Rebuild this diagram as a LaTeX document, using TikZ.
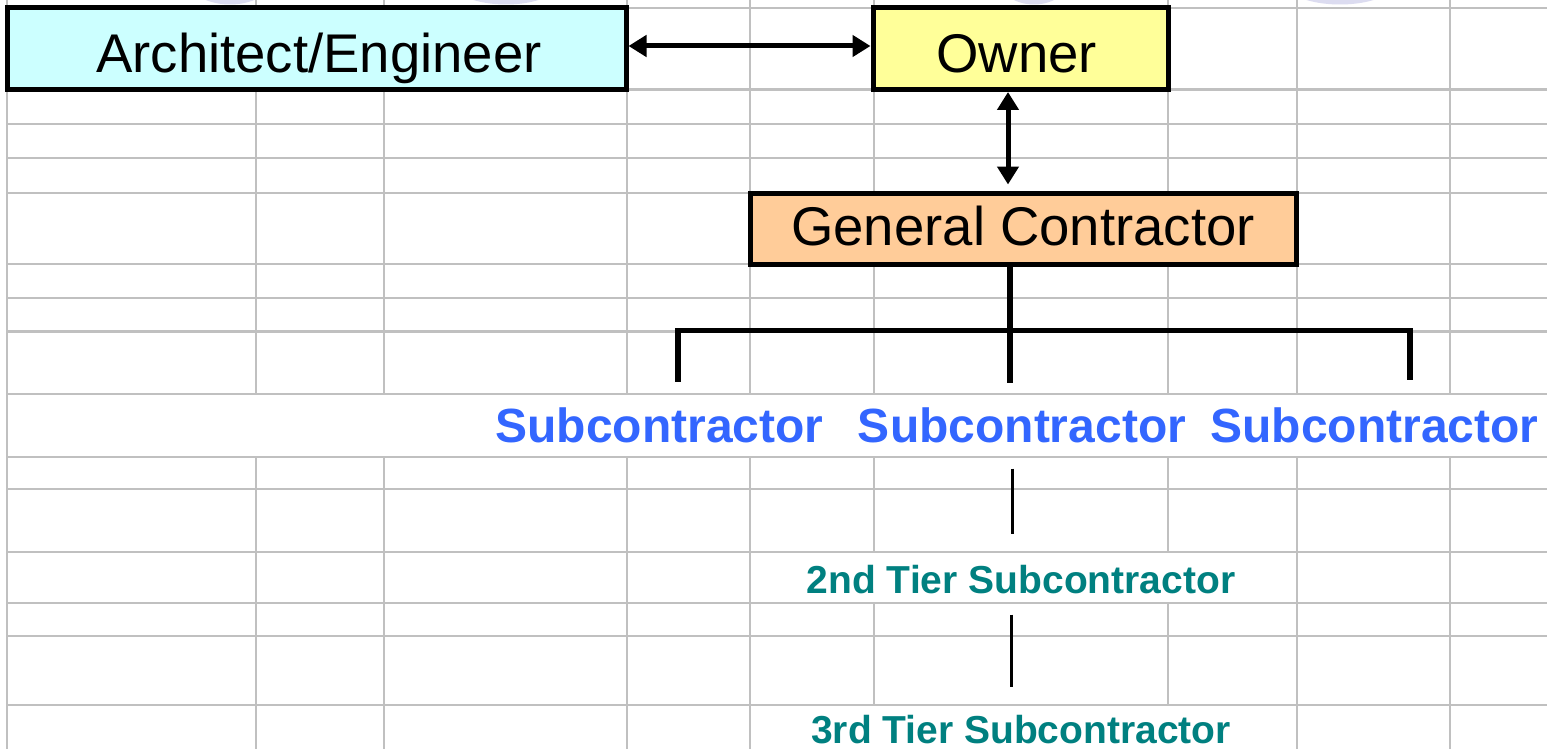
\documentclass[tikz,border=0pt]{standalone}
\usepackage{fontspec}
\setmainfont{Liberation Sans}
\usetikzlibrary{arrows.meta}

\definecolor{gridgray}{HTML}{C0C0C0}
\definecolor{aefill}{HTML}{CCFFFF}
\definecolor{ownerfill}{HTML}{FFFF99}
\definecolor{gcfill}{HTML}{FFCC99}
\definecolor{subblue}{HTML}{3366FF}
\definecolor{tierteal}{HTML}{008080}
\definecolor{haze}{HTML}{DCDCF0}

\tikzset{
  gridline/.style={draw=gridgray, line width=2.2pt},
  orgbox/.style={draw=black, line width=5pt, inner sep=0pt, text depth=0pt,
    font=\fontsize{54.5pt}{60pt}\selectfont},
  sublabel/.style={inner sep=0pt, anchor=base, text=subblue,
    font=\fontsize{48pt}{54pt}\selectfont\bfseries},
  tierlabel/.style={inner sep=0pt, anchor=base, text=tierteal,
    font=\fontsize{39pt}{44pt}\selectfont\bfseries},
  biarrow/.style={line width=5pt,
    {Triangle[length=18pt,width=21pt]}-{Triangle[length=18pt,width=21pt]}},
  treeline/.style={line width=5.5pt},
  thinlink/.style={line width=3pt}
}

\begin{document}
\begin{tikzpicture}[x=1pt,y=-1pt]
\useasboundingbox (0,0) rectangle (1547,749);
\fill[white] (0,0) rectangle (1547,749);

% faint shapes peeking in at the top edge
\begin{scope}
  \clip (0,0) rectangle (1547,749);
  \fill[haze] (230,-25.5) ellipse [x radius=46, y radius=30];
  \fill[haze] (506,-25.5) ellipse [x radius=62, y radius=30];
  \fill[haze] (1034,-25.5) ellipse [x radius=38, y radius=30];
  \fill[haze] (1340,-25.5) ellipse [x radius=64, y radius=30];
\end{scope}

% spreadsheet grid
\foreach \y in {8,89.5,124,158,193,264,298,331.5,394,457,489,552,603,636,705}
  \draw[gridline] (7,\y) -- (1547,\y);
\draw[gridline] (7,0) -- (7,749);
\foreach \x in {256,384,627,750,1297,1450} {
  \draw[gridline] (\x,0) -- (\x,394);
  \draw[gridline] (\x,457) -- (\x,749);
}
\foreach \x in {874,1168} {
  \draw[gridline] (\x,0) -- (\x,394);
  \draw[gridline] (\x,457) -- (\x,552);
  \draw[gridline] (\x,603) -- (\x,705);
}

% parties
\node[orgbox, fill=aefill, minimum width=619pt, minimum height=81.5pt,
  text height=47pt] (ae) at (316.5,48.75) {\hspace*{5pt}Architect/Engineer};
\node[orgbox, fill=ownerfill, minimum width=295pt, minimum height=81.5pt,
  text height=47pt] (owner) at (1020.5,48.75) {Owner\hspace*{8pt}};
\node[orgbox, fill=gcfill, minimum width=546pt, minimum height=71pt,
  text height=34.4pt] (gc) at (1023,228.5) {General Contractor};

\node[sublabel] (s1) at (659.5,442) {Subcontractor};
\node[sublabel] (s2) at (1022,442) {Subcontractor};
\node[sublabel] (s3) at (1374.5,442) {Subcontractor};

\node[tierlabel] (t2) at (1021,593) {2nd Tier Subcontractor};
\node[tierlabel] (t3) at (1021,743) {3rd Tier Subcontractor};

% contract relationships
\draw[biarrow] ([yshift=2.75pt]ae.east) -- ([yshift=2.75pt]owner.west);
\draw[biarrow, shorten >=6pt] ([xshift=-12.5pt]owner.south)
  -- ([xshift=-12.5pt]owner.south |- gc.north);

% general contractor to subcontractors
\coordinate (d1) at (678,381.5);
\coordinate (d3) at (1410,380);
\draw[treeline] ([xshift=-13pt]gc.south) -- ++(0,116);
\draw[treeline] (d1) -- (678,330.5) -- (1410,330.5) -- (d3);

% lower tiers
\coordinate (c2) at ([xshift=-10pt]s2.south);
\draw[thinlink, shorten <=26pt, shorten >=30.6pt] (c2) -- (c2 |- t2.north);
\coordinate (c3) at ([xshift=-10pt]t2.south);
\draw[thinlink, shorten <=21pt, shorten >=27.6pt] (c3) -- (c3 |- t3.north);
\end{tikzpicture}
\end{document}
